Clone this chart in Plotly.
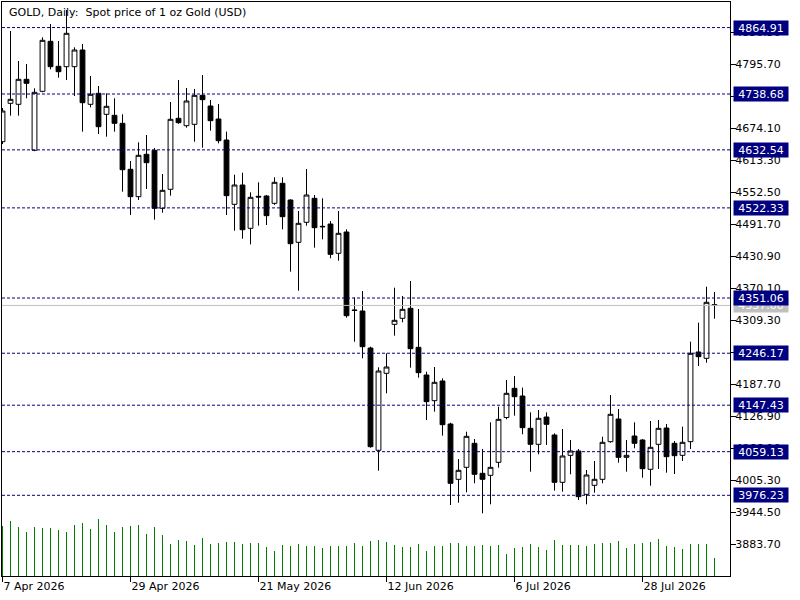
import pandas as pd
import plotly.graph_objects as go

# ---- data -------------------------------------------------------------
dates = pd.bdate_range("2026-04-07", periods=90).strftime("%Y-%m-%d").tolist()

open_ = [4648.1, 4721.0, 4719.1, 4766.6, 4631.7, 4743.8, 4838.8, 4791.3, 4790.6, 4790.6,
         4822.3, 4719.1, 4740.0, 4700.1, 4698.2, 4683.0, 4595.6, 4543.6, 4624.1, 4631.7,
         4521.5, 4557.6, 4692.5, 4678.5, 4681.1, 4736.2, 4715.9, 4691.2, 4651.3, 4529.1,
         4565.8, 4483.5, 4544.3, 4544.9, 4531.0, 4569.0, 4537.3, 4456.9, 4494.9, 4540.5,
         4487.3, 4491.7, 4436.0, 4476.5, 4328.3, 4326.4, 4256.1, 4061.7, 4208.0, 4301.1,
         4312.5, 4331.5, 4257.4, 4204.8, 4156.0, 4193.4, 4111.7, 4006.6, 4029.4, 4075.0,
         4018.0, 4014.2, 4038.9, 4124.0, 4179.5, 4164.9, 4103.5, 4073.1, 4125.0, 4090.8,
         4000.9, 4052.2, 4060.4, 3978.1, 3995.2, 4006.6, 4078.1, 4121.2, 4048.4, 4088.9,
         4081.3, 4025.6, 4073.1, 4104.1, 4075.0, 4052.2, 4078.1, 4248.5, 4236.5, 4338.4]
high = [4712.1, 4858.4, 4801.4, 4795.7, 4749.5, 4846.4, 4871.7, 4839.4, 4898.3, 4827.4,
        4833.7, 4772.9, 4753.9, 4740.0, 4730.5, 4700.1, 4611.4, 4646.9, 4660.8, 4636.1,
        4586.7, 4723.5, 4765.3, 4750.1, 4748.2, 4774.8, 4727.3, 4719.7, 4667.1, 4585.4,
        4589.2, 4551.9, 4570.9, 4546.8, 4580.4, 4580.4, 4538.6, 4516.4, 4596.2, 4546.8,
        4540.5, 4497.4, 4516.4, 4481.6, 4352.4, 4364.4, 4258.6, 4219.4, 4246.0, 4370.7,
        4354.9, 4383.4, 4330.2, 4211.1, 4220.0, 4198.5, 4114.2, 4045.2, 4097.1, 4083.2,
        4064.2, 4114.9, 4144.6, 4195.3, 4202.9, 4180.7, 4133.9, 4138.3, 4133.9, 4094.0,
        4102.2, 4081.3, 4064.2, 4024.3, 4041.4, 4087.6, 4166.8, 4140.2, 4081.3, 4114.9,
        4083.0, 4117.4, 4119.3, 4111.7, 4079.4, 4106.6, 4268.1, 4304.2, 4372.6, 4362.5]
low = [4643.7, 4697.5, 4697.5, 4730.5, 4630.0, 4742.0, 4785.6, 4769.7, 4765.3, 4734.9,
       4667.1, 4713.4, 4662.7, 4657.6, 4667.1, 4553.1, 4508.8, 4537.3, 4558.2, 4499.9,
       4513.2, 4545.5, 4682.0, 4674.7, 4648.1, 4636.7, 4669.0, 4645.0, 4508.8, 4479.0,
       4463.8, 4453.1, 4488.5, 4489.8, 4528.0, 4481.6, 4401.1, 4365.0, 4488.5, 4446.7,
       4462.6, 4426.5, 4422.0, 4313.7, 4268.1, 4236.5, 4066.7, 4023.0, 4170.0, 4279.5,
       4304.9, 4218.7, 4199.7, 4119.3, 4135.1, 4089.5, 3957.8, 3962.2, 3981.9, 3999.0,
       3942.0, 3959.1, 4028.7, 4120.6, 4127.5, 4092.1, 4021.1, 4054.1, 4071.8, 3985.0,
       3983.1, 4016.1, 3967.3, 3959.1, 3981.2, 3999.0, 4076.2, 4038.2, 4021.1, 4065.5,
       4009.7, 3994.5, 4026.2, 4019.2, 4016.7, 4041.4, 4064.2, 4221.9, 4228.2, 4311.8]
close = [4706.4, 4728.6, 4766.6, 4759.0, 4741.9, 4840.7, 4790.6, 4781.1, 4854.0, 4822.3,
         4722.2, 4738.1, 4676.6, 4715.3, 4683.0, 4594.9, 4543.6, 4622.2, 4608.2, 4521.5,
         4555.7, 4690.6, 4684.2, 4725.4, 4736.2, 4727.9, 4688.0, 4650.0, 4545.5, 4565.8,
         4480.9, 4542.4, 4543.0, 4507.5, 4570.9, 4505.6, 4454.3, 4493.0, 4546.8, 4484.7,
         4486.5, 4434.1, 4474.0, 4317.5, 4327.5, 4258.6, 4068.6, 4212.4, 4220.0, 4308.7,
         4329.6, 4254.8, 4209.2, 4154.1, 4190.9, 4110.4, 3999.0, 4023.7, 4088.3, 4016.1,
         4006.6, 4029.4, 4120.6, 4170.0, 4163.6, 4104.7, 4073.1, 4122.5, 4111.1, 4000.9,
         4050.9, 4060.4, 3973.6, 4014.8, 4006.6, 4076.9, 4130.1, 4048.4, 4052.2, 4075.0,
         4026.8, 4067.4, 4103.5, 4049.6, 4051.5, 4076.9, 4246.0, 4239.6, 4342.9, 4337.0]
# tick volume (thousands)
volume = [50, 55, 49, 44, 49, 48, 48, 46, 44, 51, 53, 47, 57, 51, 44, 49, 50, 51, 42, 49,
          41, 32, 36, 35, 31, 38, 32, 33, 34, 34, 32, 33, 33, 29, 25, 31, 30, 32, 30, 30,
          28, 30, 30, 30, 33, 30, 35, 36, 34, 31, 29, 29, 32, 25, 30, 30, 33, 33, 30, 30,
          31, 30, 31, 22, 28, 29, 32, 29, 26, 36, 31, 31, 31, 30, 32, 33, 33, 35, 28, 32,
          33, 34, 37, 30, 29, 27, 32, 32, 32, 18]

levels = [4864.91, 4738.68, 4632.54, 4522.33, 4351.06, 4246.17, 4147.43, 4059.13, 3976.23]
bid = 4337.00

date_tick_vals = ["2026-04-07", "2026-04-29", "2026-05-21", "2026-06-12", "2026-07-06", "2026-07-28"]
date_tick_text = ["7 Apr 2026", "29 Apr 2026", "21 May 2026", "12 Jun 2026", "6 Jul 2026", "28 Jul 2026"]

price_ticks = [3883.70, 3944.50, 4005.30, 4066.10, 4126.90, 4187.70, 4248.50, 4309.30, 4370.10,
               4430.90, 4491.70, 4552.50, 4613.30, 4674.10, 4734.90, 4795.70, 4856.50]

title_text = "GOLD, Daily:\u00a0 Spot price of 1 oz Gold (USD)"

FONT = "DejaVu Sans"

# ---- figure -----------------------------------------------------------
vx, vy = [], []
for d, v in zip(dates, volume):
    vx += [d, d, None]
    vy += [0, v, None]

fig = go.Figure()
fig.add_trace(go.Scatter(x=vx, y=vy, mode="lines", yaxis="y2",
                         line=dict(color="#008000", width=1), hoverinfo="skip",
                         showlegend=False))
fig.add_trace(go.Candlestick(
    x=dates, open=open_, high=high, low=low, close=close,
    increasing=dict(fillcolor="white", line=dict(color="black", width=1)),
    decreasing=dict(fillcolor="black", line=dict(color="black", width=1)),
    whiskerwidth=0, showlegend=False))

shapes = []
for lv in levels:
    shapes.append(dict(type="line", xref="paper", x0=0, x1=1, yref="y", y0=lv, y1=lv,
                       line=dict(color="#000080", width=1, dash="3px,2px")))
shapes.append(dict(type="line", xref="paper", x0=0, x1=1, yref="y", y0=bid, y1=bid,
                   line=dict(color="#C0C0C0", width=1)))

annotations = [dict(xref="paper", x=1, xanchor="left", xshift=3, yref="y", y=bid,
                    text=f"{bid:.2f}", showarrow=False, bgcolor="#C0C0C0",
                    font=dict(family=FONT, size=11, color="white"),
                    width=52, height=12, borderpad=1)]
for lv in levels:
    annotations.append(dict(xref="paper", x=1, xanchor="left", xshift=3, yref="y", y=lv,
                            text=f"{lv:.2f}", showarrow=False, bgcolor="#000080",
                            font=dict(family=FONT, size=11, color="white"),
                            width=52, height=12, borderpad=1))
annotations.append(dict(xref="paper", x=0, xanchor="left", xshift=5, yref="paper", y=1,
                        yanchor="top", yshift=-2, text=title_text, showarrow=False,
                        font=dict(family=FONT, size=11, color="black")))

fig.update_layout(
    width=800, height=600,
    margin=dict(l=2, r=70, t=2, b=24),
    paper_bgcolor="white", plot_bgcolor="white",
    font=dict(family=FONT, size=11, color="black"),
    boxgap=0.4, boxgroupgap=0,
    showlegend=False,
    shapes=shapes, annotations=annotations,
    xaxis=dict(type="category", range=[-0.0625, 90.9375], rangeslider=dict(visible=False),
               tickvals=date_tick_vals, ticktext=date_tick_text,
               ticks="outside", ticklen=5, tickcolor="black",
               ticklabelposition="outside right",
               showgrid=False, zeroline=False,
               showline=True, linecolor="black", linewidth=1, mirror=True),
    yaxis=dict(side="right", range=[3822.9, 4913.5], tickvals=price_ticks,
               tickformat=".2f", ticks="outside", ticklen=5, tickcolor="black",
               ticklabelstandoff=-3,
               showgrid=False, zeroline=False,
               showline=True, linecolor="black", linewidth=1, mirror=True),
    yaxis2=dict(overlaying="y", range=[0, 574], visible=False),
)

fig.write_html("out.html", config={"displayModeBar": False},
               post_script="document.body.style.margin='0';document.body.style.padding='0';")
